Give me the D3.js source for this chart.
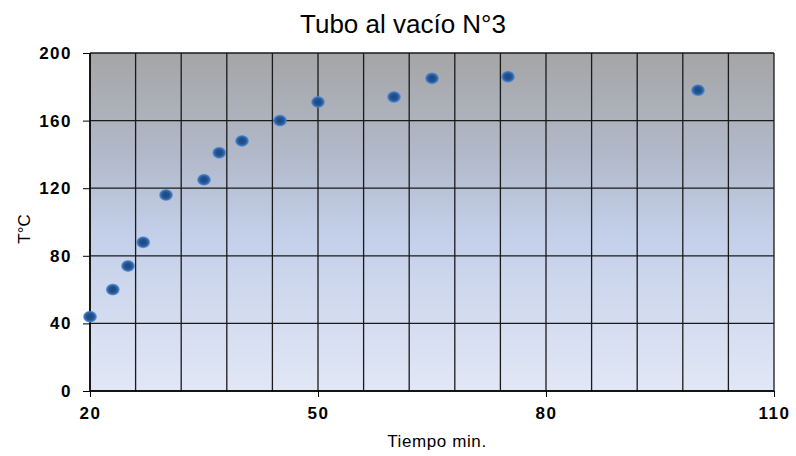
<!DOCTYPE html>
<html><head>
<meta charset="utf-8">
<script src="https://d3js.org/d3.v7.min.js"></script>
<style>
  body { margin: 0; background: #fff; }
  svg text { font-family: "Liberation Sans", Arial, sans-serif; }
  .axis text { font-weight: bold; fill: #000; }
  .axis .domain { stroke: #000; }
  .axis line { stroke: #000; }
</style>
</head>
<body>
<svg id="chart" width="796" height="456"></svg>
<script>
// data
let tiempo = [20, 23, 25, 27, 30, 35, 37, 40, 45, 50, 60, 65, 75, 100];
let temperatura = [44, 60, 74, 88, 116, 125, 141, 148, 160, 171, 174, 185, 186, 178];
let xTicks = [20, 50, 80, 110];
let yTicks = [0, 40, 80, 120, 160, 200];
let xGrid = d3.range(20, 111, 6);

let svg = d3.select("svg#chart");
let margin = { top: 53, right: 22, bottom: 65, left: 90 };
let chartWidth = 796 - margin.left - margin.right;
let chartHeight = 456 - margin.top - margin.bottom;

let x = d3.scaleLinear().domain([20, 110]).range([0, chartWidth]);
let y = d3.scaleLinear().domain([0, 200]).range([chartHeight, 0]);

// background gradient
let defs = svg.append("defs");
let bg = defs.append("linearGradient").attr("id", "bg")
  .attr("x1", 0).attr("y1", 0).attr("x2", 0).attr("y2", 1);
bg.append("stop").attr("offset", "0%").attr("stop-color", "#a5a5a5");
bg.append("stop").attr("offset", "30%").attr("stop-color", "#b1b9c9");
bg.append("stop").attr("offset", "53%").attr("stop-color", "#c3cfe9");
bg.append("stop").attr("offset", "100%").attr("stop-color", "#e1e7f5");

let dot = defs.append("radialGradient").attr("id", "dot");
dot.append("stop").attr("offset", "0%").attr("stop-color", "#1d4880");
dot.append("stop").attr("offset", "50%").attr("stop-color", "#22528f");
dot.append("stop").attr("offset", "80%").attr("stop-color", "#3b74bd");
dot.append("stop").attr("offset", "100%").attr("stop-color", "#5c8fd0").attr("stop-opacity", 0.6);

let g = svg.append("g").attr("transform", "translate(" + margin.left + "," + margin.top + ")");

g.append("rect")
  .attr("width", chartWidth).attr("height", chartHeight)
  .attr("fill", "url(#bg)");

// gridlines
g.append("g").selectAll("line.v").data(xGrid).join("line")
  .attr("x1", d => x(d)).attr("x2", d => x(d))
  .attr("y1", 0).attr("y2", chartHeight)
  .attr("stroke", "#1a1a1a").attr("stroke-width", 1.3);

g.append("g").selectAll("line.h").data(yTicks).join("line")
  .attr("x1", 0).attr("x2", chartWidth)
  .attr("y1", d => y(d)).attr("y2", d => y(d))
  .attr("stroke", "#1a1a1a").attr("stroke-width", 1.3);

// axes
let xAxis = d3.axisBottom(x).tickValues(xTicks).tickSize(6).tickPadding(10);
g.append("g").attr("class", "axis x")
  .attr("transform", "translate(0," + chartHeight + ")")
  .call(xAxis)
  .call(a => a.selectAll("text").style("font-size", "17px").style("letter-spacing", "1.5px"))
  .call(a => a.select(".domain").attr("d", "M0,0H" + chartWidth).attr("stroke", "#444").attr("stroke-width", 1.5));

let yAxis = d3.axisLeft(y).tickValues(yTicks).tickSize(7).tickPadding(11);
g.append("g").attr("class", "axis y")
  .call(yAxis)
  .call(a => a.selectAll("text").style("font-size", "17px").style("letter-spacing", "1.5px"))
  .call(a => a.select(".domain").attr("d", "M0,0V" + chartHeight).attr("stroke", "#444").attr("stroke-width", 1.5));

// points
g.append("g").selectAll("ellipse").data(tiempo).join("ellipse")
  .attr("cx", d => x(d))
  .attr("cy", (d, i) => y(temperatura[i]))
  .attr("rx", 7).attr("ry", 6)
  .attr("fill", "url(#dot)");

// titles
svg.append("text").attr("x", 403).attr("y", 33)
  .attr("text-anchor", "middle").style("font-size", "26px")
  .text("Tubo al vacío N°3");

svg.append("text").attr("x", 437).attr("y", 447)
  .attr("text-anchor", "middle").style("font-size", "17px")
  .style("letter-spacing", "0.6px")
  .text("Tiempo min.");

svg.append("text")
  .attr("transform", "translate(30," + (margin.top + chartHeight / 2 + 7) + ") rotate(-90)")
  .attr("text-anchor", "middle").style("font-size", "17px")
  .text("T°C");
</script>
</body>
</html>
